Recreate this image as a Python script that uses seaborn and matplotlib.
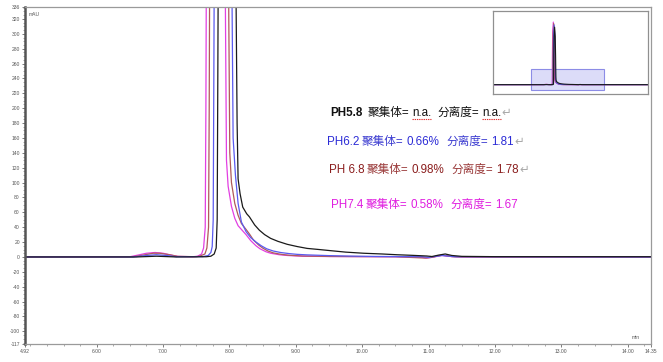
import matplotlib
matplotlib.use("Agg")
import matplotlib.pyplot as plt
import matplotlib.patches as mpatches
from matplotlib.ticker import FixedLocator, MultipleLocator
import numpy as np
import pandas as pd
import seaborn as sns

# Chromatogram traces (time in min, signal in mAU)
t_58 = [0.0, 4.92, 6.60, 6.90, 7.20, 7.65, 7.72, 7.77, 7.80, 7.815, 7.825, 7.84, 7.88, 7.95,
        8.03, 8.08, 8.10, 8.115, 8.13, 8.16, 8.20, 8.26, 8.30, 8.38, 8.45, 8.53, 8.62, 8.73,
        8.87, 9.02, 9.17, 9.35, 9.52, 9.75, 10.02, 10.30, 10.52, 10.75, 10.97, 11.05, 11.15,
        11.25, 11.35, 11.50, 12.00, 14.35, 20.0]
y_58 = [0, 0, 0, 1.0, 0, 0.3, 1.0, 4, 12, 50, 250, 600, 1050, 1250,
        1050, 600, 340, 180, 105, 85, 67, 58, 54, 43, 36, 30, 25, 21,
        17, 14, 11.5, 10, 8.5, 6.5, 5, 4, 3, 2.2, 1.3, 0.6, 2.5,
        4, 2, 0.8, 0.4, 0.3, 0]

t_62 = [0.0, 4.92, 6.55, 6.75, 6.90, 7.05, 7.20, 7.60, 7.68, 7.72, 7.74, 7.755, 7.765, 7.78,
        7.82, 7.89, 7.97, 8.02, 8.04, 8.055, 8.09, 8.13, 8.18, 8.25, 8.32, 8.40, 8.48, 8.56,
        8.66, 8.77, 8.90, 9.02, 9.17, 9.50, 9.80, 10.20, 10.90, 11.00, 11.20, 11.40, 14.35, 20.0]
y_62 = [0, 0, 0, 2.0, 3.0, 2.0, 0.3, 0.5, 2, 6, 14, 50, 250, 600,
        1100, 1300, 1100, 600, 330, 160, 110, 72, 47, 34, 26, 20, 15, 11,
        8, 6, 4.5, 3.5, 2.8, 1.8, 1.2, 0.7, 0.3, -0.5, 2, 0.3, 0, 0]

t_68 = [0.0, 4.92, 6.55, 6.70, 6.85, 6.95, 7.10, 7.22, 7.50, 7.55, 7.63, 7.66, 7.685, 7.695,
        7.71, 7.75, 7.83, 7.91, 7.97, 7.99, 8.005, 8.03, 8.08, 8.13, 8.18, 8.25, 8.30, 8.36,
        8.44, 8.50, 8.58, 8.66, 8.78, 8.90, 9.10, 9.50, 10.50, 10.95, 11.05, 11.20, 11.35,
        11.50, 14.35, 20.0]
y_68 = [0, 0, 0.3, 2.5, 5, 5, 3, 0.8, 0.3, 1, 4, 12, 40, 200,
        600, 1100, 1330, 1100, 600, 320, 140, 100, 72, 56, 45, 37, 31, 23,
        16, 12, 8, 5.5, 3.5, 2.3, 1.3, 0.7, 0.3, -1.5, -0.5, 2.5, 0.5,
        0, 0, 0]

t_74 = [0.0, 4.92, 6.50, 6.62, 6.75, 6.88, 7.00, 7.12, 7.22, 7.45, 7.52, 7.58, 7.61, 7.635,
        7.645, 7.66, 7.70, 7.78, 7.86, 7.92, 7.94, 7.955, 7.98, 8.03, 8.08, 8.13, 8.20, 8.25,
        8.32, 8.40, 8.46, 8.55, 8.62, 8.75, 8.87, 9.10, 9.50, 10.50, 10.90, 10.97, 11.05,
        11.20, 11.35, 11.50, 14.35, 20.0]
y_74 = [0, 0, 0.3, 2.5, 5, 6, 5, 2.5, 0.8, 0.3, 1.0, 4, 12, 40,
        200, 600, 1150, 1360, 1150, 600, 320, 130, 95, 68, 52, 42, 35, 30,
        22, 15, 11, 7, 5, 3, 2, 1, 0.6, 0.3, -0.5, -1.5, -0.5,
        2, 0.5, 0, 0, 0]

samples = ["PH7.4", "PH6.8", "PH6.2", "PH5.8"]
colors = {"PH7.4": "#e23fe2", "PH6.8": "#b05a5a", "PH6.2": "#5a5af0", "PH5.8": "#1a1a1a"}

frames = []
for name, t, y in [("PH5.8", t_58, y_58), ("PH6.2", t_62, y_62),
                   ("PH6.8", t_68, y_68), ("PH7.4", t_74, y_74)]:
    frames.append(pd.DataFrame({"time": t, "signal": y, "sample": name}))
df = pd.concat(frames, ignore_index=True)

sns.set_theme(style="white")
plt.rcParams["font.family"] = ["Liberation Sans", "Noto Sans CJK SC", "DejaVu Sans"]

W, H = 663, 362
fig = plt.figure(figsize=(W / 100, H / 100), dpi=100)
ax = fig.add_axes([25 / W, 1 - 344 / H, (651 - 25) / W, 337 / H])

sns.lineplot(data=df, x="time", y="signal", hue="sample", hue_order=samples,
             palette=colors, estimator=None, sort=False, legend=False,
             linewidth=0.9, ax=ax)

x0, x1 = 4.92, 14.35
y0, y1 = -117, 336
ax.set_xlim(x0, x1)
ax.set_ylim(y0, y1)
ax.set_xlabel("")
ax.set_ylabel("")

# Axis frame
for side in ["top", "right", "bottom"]:
    ax.spines[side].set_color("#9a9a9a")
    ax.spines[side].set_linewidth(0.9)
ax.spines["left"].set_color("#555555")
ax.spines["left"].set_linewidth(1.8)

xticks = [4.92] + list(range(6, 15)) + [14.35]
xlabels = ["4.92"] + [f"{v:.2f}" for v in range(6, 15)] + ["14.35"]
ax.xaxis.set_major_locator(FixedLocator(xticks))
ax.set_xticklabels(xlabels)
ax.xaxis.set_minor_locator(FixedLocator(np.arange(5.0, 14.35, 0.25)))

yticks = [-117] + list(range(-100, 321, 20)) + [336]
ax.yaxis.set_major_locator(FixedLocator(yticks))
ax.set_yticklabels([str(v) for v in yticks])
ax.yaxis.set_minor_locator(MultipleLocator(5))

ax.tick_params(axis="both", which="major", direction="out", length=2.5, width=0.6,
               color="#666666", labelsize=3.6, labelcolor="#555555", pad=1.2)
ax.tick_params(axis="both", which="minor", direction="out", length=1.2, width=0.5,
               color="#888888")
ax.tick_params(bottom=True, left=True, which="both")

ax.text(0.006, 0.985, "mAU", transform=ax.transAxes, fontsize=3.6, color="#555555",
        va="top", ha="left")
ax.text(0.982, 0.012, "min", transform=ax.transAxes, fontsize=3.6, color="#555555",
        va="bottom", ha="right")

# Overview inset with the zoomed region marked
ins = fig.add_axes([493 / W, 1 - 94 / H, 155 / W, 83 / H])
ins.add_patch(mpatches.Rectangle((x0, y0), x1 - x0, y1 - y0, facecolor="#dcdcf8",
                                 edgecolor="#8c8ce6", linewidth=0.8, zorder=0))
sns.lineplot(data=df, x="time", y="signal", hue="sample", hue_order=samples,
             palette=colors, estimator=None, sort=False, legend=False,
             linewidth=0.8, ax=ins)
ins.set_xlim(0, 20)
ins.set_ylim(-203, 1600)
ins.set_xticks([])
ins.set_yticks([])
ins.set_xlabel("")
ins.set_ylabel("")
for s in ins.spines.values():
    s.set_color("#909090")
    s.set_linewidth(0.9)

# Result annotations, written piece by piece along a shared baseline
renderer = fig.canvas.get_renderer()
fam = ["Liberation Sans", "Noto Sans CJK SC", "DejaVu Sans"]


def write_line(x_px, base_px, pieces, size=8.4):
    x = x_px
    boxes = []
    for text, color, weight, gap in pieces:
        t = fig.text(x / W, 1 - base_px / H, text, color=color, fontsize=size,
                     fontweight=weight, family=fam, va="baseline", ha="left")
        bb = t.get_window_extent(renderer=renderer)
        boxes.append(bb)
        x = bb.x1 + gap
    return boxes


b1 = write_line(330, 116, [("PH5.8", "#111111", "bold", 5),
                           ("聚集体=", "#111111", "normal", 3),
                           ("n.a.", "#111111", "normal", 6),
                           ("分离度=", "#111111", "normal", 3),
                           ("n.a.", "#111111", "normal", 0.5),
                           ("↵", "#aaaaaa", "normal", 0)])
for idx in (2, 4):
    bb = b1[idx]
    yb = 1 - (116 + 3) / H
    fig.add_artist(plt.Line2D([bb.x0 / W, bb.x1 / W], [yb, yb], color="#e03030",
                              linewidth=0.8, linestyle=(0, (1.2, 0.8)),
                              transform=fig.transFigure))

write_line(327, 145, [("PH6.2", "#2c2cd6", "normal", 2.5),
                      ("聚集体=", "#3b3bd0", "normal", 3),
                      ("0.66%", "#2c2cd6", "normal", 7),
                      ("分离度=", "#3b3bd0", "normal", 3),
                      ("1.81", "#2c2cd6", "normal", 0.5),
                      ("↵", "#aaaaaa", "normal", 0)])

write_line(329, 173, [("PH 6.8", "#8b1e1e", "normal", 2.5),
                      ("聚集体=", "#9a3a3a", "normal", 3),
                      ("0.98%", "#8b1e1e", "normal", 7),
                      ("分离度=", "#9a3a3a", "normal", 3),
                      ("1.78", "#8b1e1e", "normal", 0.5),
                      ("↵", "#aaaaaa", "normal", 0)])

write_line(331, 208, [("PH7.4", "#e01ee0", "normal", 2.5),
                      ("聚集体=", "#e01ee0", "normal", 3),
                      ("0.58%", "#e01ee0", "normal", 7),
                      ("分离度=", "#e01ee0", "normal", 3),
                      ("1.67", "#e01ee0", "normal", 0)])

fig.savefig("out.png", dpi=100)
